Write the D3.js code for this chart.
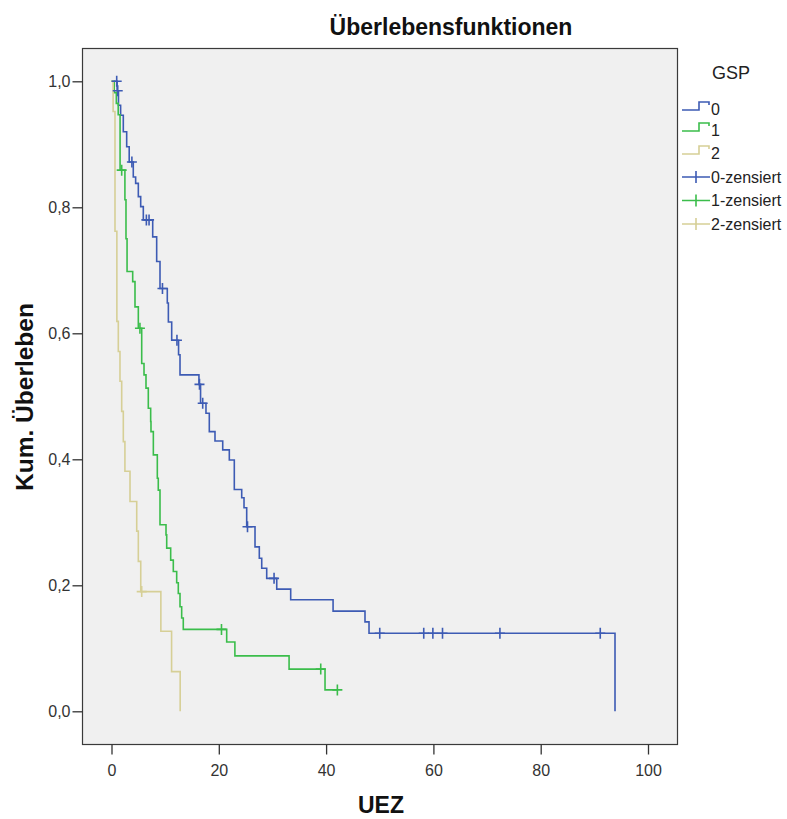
<!DOCTYPE html>
<html>
<head>
<meta charset="utf-8">
<script src="https://cdn.jsdelivr.net/npm/d3@7"></script>
<style>
  body { margin: 0; background: #fff; }
  svg { font-family: "Liberation Sans", Arial, sans-serif; }
</style>
</head>
<body>
<svg id="chart" width="787" height="819"></svg>
<script>
// Kaplan-Meier steps: time of each drop and the survival after it
var groups = ['0', '1', '2'];
var colors = ['#3d5bb4', '#3bbd4b', '#d6cf96'];

var time0 = [0, 1.05, 1.3, 1.7, 2.2, 2.83, 3.3, 4.06, 4.5, 5.0, 5.44, 5.93, 7.68, 8.42, 9.04, 10.4, 10.6, 11.22, 12.5, 12.77, 16.3, 16.6, 17.61, 18.23, 19.29, 20.73, 21.96, 22.89, 24.27, 24.7, 25.2, 26.75, 27.55, 28.0, 28.93, 30.8, 33.4, 41.3, 47.25, 48.0, 93.85];
var surv0 = [1, 0.985, 0.962, 0.946, 0.92, 0.896, 0.872, 0.848, 0.838, 0.817, 0.801, 0.78, 0.753, 0.714, 0.671, 0.648, 0.618, 0.589, 0.566, 0.534, 0.519, 0.489, 0.473, 0.444, 0.429, 0.415, 0.399, 0.352, 0.339, 0.323, 0.293, 0.261, 0.243, 0.227, 0.211, 0.194, 0.177, 0.159, 0.142, 0.124, 0];
var cens0Time = [0.97, 1.16, 3.8, 6.5, 7.0, 9.5, 12.2, 16.4, 17.0, 25.35, 30.3, 50.0, 58.2, 59.9, 61.7, 72.4, 91.1];
var cens0Surv = [1, 0.985, 0.872, 0.78, 0.78, 0.671, 0.589, 0.519, 0.489, 0.293, 0.211, 0.124, 0.124, 0.124, 0.124, 0.124, 0.124];

var time1 = [0, 0.5, 0.9, 1.25, 1.6, 2.5, 2.7, 2.9, 3.95, 4.38, 5.0, 5.63, 6.06, 6.43, 6.86, 7.3, 7.36, 7.8, 8.54, 8.72, 9.04, 10.16, 10.29, 11.03, 11.52, 12.15, 12.45, 12.77, 13.08, 13.38, 21.47, 23.0, 33.1, 39.8, 42.1];
var surv1 = [1, 0.982, 0.965, 0.947, 0.859, 0.812, 0.75, 0.698, 0.682, 0.642, 0.608, 0.552, 0.534, 0.513, 0.481, 0.46, 0.444, 0.407, 0.37, 0.351, 0.296, 0.28, 0.259, 0.24, 0.222, 0.204, 0.187, 0.166, 0.148, 0.13, 0.11, 0.088, 0.067, 0.034, 0.034];
var cens1Time = [1.9, 5.3, 20.5, 39.0, 42.1];
var cens1Surv = [0.859, 0.608, 0.13, 0.067, 0.034];

var time2 = [0, 0.3, 0.65, 1.0, 1.27, 1.58, 1.9, 2.2, 2.5, 3.45, 4.7, 5.0, 5.45, 9.2, 11.2, 12.8];
var surv2 = [1, 0.952, 0.762, 0.619, 0.571, 0.524, 0.476, 0.428, 0.381, 0.333, 0.286, 0.238, 0.19, 0.127, 0.063, 0];
var cens2Time = [5.63];
var cens2Surv = [0.19];

var xTicks = [0, 20, 40, 60, 80, 100];
var yTicks = [0, 0.2, 0.4, 0.6, 0.8, 1.0];

var steps = [d3.zip(time0, surv0), d3.zip(time1, surv1), d3.zip(time2, surv2)];
var censored = [d3.zip(cens0Time, cens0Surv), d3.zip(cens1Time, cens1Surv), d3.zip(cens2Time, cens2Surv)];

var frame = { left: 82, top: 48, right: 677, bottom: 744 };

var svg = d3.select('#chart');

var x = d3.scaleLinear().domain([0, 100]).range([111.5, 648]);
var y = d3.scaleLinear().domain([0, 1]).range([711.3, 81.3]);

// plot area
svg.append('rect')
    .attr('x', frame.left + 0.5)
    .attr('y', frame.top + 0.5)
    .attr('width', frame.right - frame.left)
    .attr('height', frame.bottom - frame.top)
    .attr('fill', '#f0f0f0')
    .attr('stroke', '#3a3a3a')
    .attr('stroke-width', 1.2);

// axes
var comma = function (d) { return d3.format('.1f')(d).replace('.', ','); };
var yAxis = svg.append('g')
    .attr('transform', 'translate(' + (frame.left + 0.5) + ',0)')
    .call(d3.axisLeft(y).tickValues(yTicks).tickFormat(comma).tickSize(10).tickPadding(2));
var xAxis = svg.append('g')
    .attr('transform', 'translate(0,' + (frame.bottom + 0.5) + ')')
    .call(d3.axisBottom(x).tickValues(xTicks).tickSize(10).tickPadding(10));
[xAxis, yAxis].forEach(function (a) {
    a.select('.domain').remove();
    a.selectAll('line').attr('stroke', '#333').attr('stroke-width', 1.3);
    a.selectAll('text').attr('fill', '#333').style('font-size', '16px')
        .style('font-family', '"Liberation Sans", Arial, sans-serif');
});

// survival curves
var line = d3.line()
    .x(function (d) { return x(d[0]); })
    .y(function (d) { return y(d[1]); })
    .curve(d3.curveStepAfter);

svg.append('g').selectAll('path')
    .data(steps)
    .enter().append('path')
    .attr('d', line)
    .attr('fill', 'none')
    .attr('stroke', function (d, i) { return colors[i]; })
    .attr('stroke-width', 1.6);

// censor marks
censored.forEach(function (pts, i) {
    var g = svg.append('g').attr('stroke', colors[i]).attr('stroke-width', 1.6);
    g.selectAll('path')
        .data(pts)
        .enter().append('path')
        .attr('d', function (d) {
            var cx = x(d[0]), cy = y(d[1]);
            return 'M' + (cx - 5) + ',' + cy + 'H' + (cx + 5) + 'M' + cx + ',' + (cy - 5.5) + 'V' + (cy + 5.5);
        });
});

// titles
svg.append('text')
    .attr('x', 451).attr('y', 35)
    .attr('text-anchor', 'middle')
    .style('font-size', '23px').style('font-weight', 'bold')
    .attr('fill', '#111')
    .text('Überlebensfunktionen');
svg.append('text')
    .attr('transform', 'translate(33,397) rotate(-90)')
    .attr('text-anchor', 'middle')
    .style('font-size', '24.5px').style('font-weight', 'bold')
    .attr('fill', '#111')
    .text('Kum. Überleben');
svg.append('text')
    .attr('x', 381).attr('y', 813)
    .attr('text-anchor', 'middle')
    .style('font-size', '23px').style('font-weight', 'bold')
    .attr('fill', '#111')
    .text('UEZ');

// legend
var legend = svg.append('g');
legend.append('text')
    .attr('x', 712).attr('y', 79)
    .style('font-size', '18px').attr('fill', '#222')
    .text('GSP');
var rowY = [109, 130, 153, 177, 200.5, 224];
var labels = groups.concat(groups.map(function (g) { return g + '-zensiert'; }));
labels.forEach(function (lab, i) {
    var ry = rowY[i];
    var c = colors[i % 3];
    if (i < 3) {
        legend.append('path')
            .attr('d', 'M682,' + (ry + 1) + 'H699V' + (ry - 7) + 'H709V' + (ry - 4))
            .attr('fill', 'none').attr('stroke', c).attr('stroke-width', 1.6);
    } else {
        legend.append('path')
            .attr('d', 'M682,' + ry + 'H710M696,' + (ry - 6) + 'V' + (ry + 6))
            .attr('stroke', c).attr('stroke-width', 1.6);
    }
    legend.append('text')
        .attr('x', 711).attr('y', ry).attr('dy', '0.36em')
        .style('font-size', '16px').attr('fill', '#222')
        .text(lab);
});
</script>
</body>
</html>
